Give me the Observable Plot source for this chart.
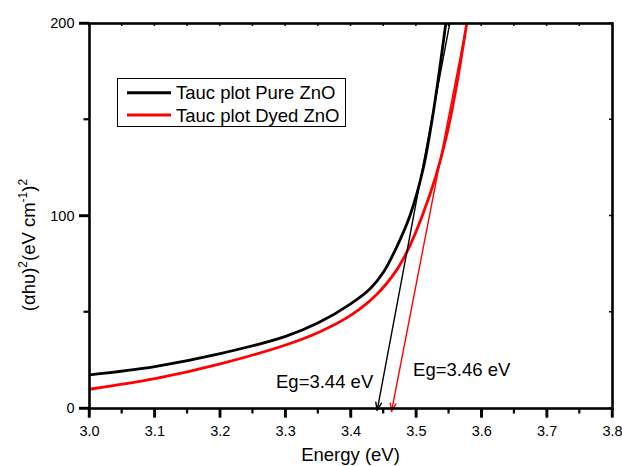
<!DOCTYPE html>
<html><head><meta charset="utf-8">
<script src="https://cdn.jsdelivr.net/npm/d3@7"></script>
<script src="https://cdn.jsdelivr.net/npm/@observablehq/plot@0.6"></script>
<style>body{margin:0;background:#fff}</style>
</head><body><div id="chart"></div>
<script>
// Series values
const energyPure = [3.0, 3.1, 3.2, 3.3, 3.35, 3.4, 3.43, 3.45, 3.47, 3.49, 3.51, 3.525, 3.535, 3.545];
const valuePure  = [17.5, 21.8, 28.5, 37.5, 44.5, 54.5, 62.5, 71, 84, 100, 124, 152, 175, 200];
const energyDyed = [3.0, 3.1, 3.2, 3.3, 3.35, 3.4, 3.44, 3.47, 3.49, 3.51, 3.53, 3.545, 3.56, 3.577];
const valueDyed  = [10, 15.5, 23.2, 33, 39.5, 48.5, 59.5, 72, 84.5, 101, 121, 140, 165, 200];

// Tangent (extrapolation) lines with arrows
const tangentX1 = [3.551, 3.577];
const tangentY1 = [200, 200];
const tangentX2 = [3.44, 3.462];
const tangentY2 = [-1, -1.5];
const tangentColor = ["black", "red"];

// Annotations
const noteText = ["Eg=3.44 eV", "Eg=3.46 eV"];
const noteX = [3.434, 3.495];
const noteY = [13.5, 20];
const noteAnchor = ["end", "start"];

// Legend
const seriesNames = ["Tauc plot Pure ZnO", "Tauc plot Dyed ZnO"];
const seriesColors = ["black", "red"];

// Ticks
const xMajor = [3.0, 3.1, 3.2, 3.3, 3.4, 3.5, 3.6, 3.7, 3.8];
const xMinor = [3.05, 3.15, 3.25, 3.35, 3.45, 3.55, 3.65, 3.75];
const yMajor = [0, 100, 200];
const yMinor = [50, 150];

const pure = energyPure.map((e, i) => ({e, v: valuePure[i]}));
const dyed = energyDyed.map((e, i) => ({e, v: valueDyed[i]}));
const tangents = tangentX1.map((x1, i) => ({x1, y1: tangentY1[i], x2: tangentX2[i], y2: tangentY2[i], c: tangentColor[i]}));
const notes = noteText.map((t, i) => ({t, x: noteX[i], y: noteY[i], a: noteAnchor[i]}));

const FONT = "'Liberation Sans', Arial, Helvetica, sans-serif";

const chart = Plot.plot({
  width: 622, height: 466,
  marginLeft: 89, marginRight: 10, marginTop: 23, marginBottom: 58,
  style: {fontFamily: FONT, background: "white", color: "black"},
  x: {domain: [3.0, 3.8]},
  y: {domain: [0, 200]},
  marks: [
    Plot.line(pure, {x: "e", y: "v", stroke: seriesColors[0], strokeWidth: 2.8, curve: "catmull-rom", clip: true}),
    Plot.line(dyed, {x: "e", y: "v", stroke: seriesColors[1], strokeWidth: 2.8, curve: "catmull-rom", clip: true}),
    Plot.arrow(tangents.filter(d => d.c === "black"), {x1: "x1", y1: "y1", x2: "x2", y2: "y2", stroke: "black", strokeWidth: 1.4, headLength: 9, headAngle: 40}),
    Plot.arrow(tangents.filter(d => d.c === "red"), {x1: "x1", y1: "y1", x2: "x2", y2: "y2", stroke: "red", strokeWidth: 1.4, headLength: 9, headAngle: 40}),
    Plot.text(notes.filter(d => d.a === "end"), {x: "x", y: "y", text: "t", textAnchor: "end", fontSize: 18.5, fill: "black"}),
    Plot.text(notes.filter(d => d.a === "start"), {x: "x", y: "y", text: "t", textAnchor: "start", fontSize: 18.5, fill: "black"}),
    Plot.axisX({ticks: xMajor, tickSize: 9.5, tickPadding: 8, tickFormat: d3.format(".1f"), fontSize: 14.5, strokeWidth: 2.4, label: null}),
    Plot.axisY({ticks: yMajor, tickSize: 10, tickPadding: 5, fontSize: 14.5, strokeWidth: 2.4, label: null}),
    Plot.frame({stroke: "black", strokeWidth: 2.6})
  ]
});

document.getElementById("chart").appendChild(chart);

const svg = d3.select(chart);

// Tick marks drawn with the plot's own scales
const sxObj = chart.scale("x"), syObj = chart.scale("y");
const X = (sxObj && sxObj.apply) ? (v => sxObj.apply(v)) : d3.scaleLinear([3.0, 3.8], [89, 612]);
const Y = (syObj && syObj.apply) ? (v => syObj.apply(v)) : d3.scaleLinear([0, 200], [408, 23]);
const xl = X(3.0), xr = X(3.8), yb = Y(0), yt0 = Y(200);
const tg = svg.append("g").attr("stroke", "black").attr("fill", "none");
function tick(xa, ya, xb, yb2, w) {
  tg.append("line").attr("x1", xa).attr("y1", ya).attr("x2", xb).attr("y2", yb2).attr("stroke-width", w);
}
xMajor.forEach(v => { tick(X(v), yb, X(v), yb + 9.5, 2.4); tick(X(v), yt0, X(v), yt0 + 3, 1.5); });
xMinor.forEach(v => { tick(X(v), yb, X(v), yb + 5.5, 2.2); tick(X(v), yt0, X(v), yt0 + 3, 1.5); });
yMajor.forEach(v => { tick(xl - 10, Y(v), xl, Y(v), 2.4); tick(xr - 3, Y(v), xr, Y(v), 1.5); });
yMinor.forEach(v => { tick(xl - 5.5, Y(v), xl, Y(v), 2.2); tick(xr - 3, Y(v), xr, Y(v), 1.5); });

// X axis title
svg.append("text")
  .attr("x", (xl + xr) / 2).attr("y", 461)
  .attr("text-anchor", "middle")
  .attr("font-family", FONT).attr("font-size", 18.5).attr("fill", "black")
  .text("Energy (eV)");

// Y axis title with superscripts
const ytl = svg.append("text")
  .attr("transform", "translate(35,245) rotate(-90)")
  .attr("text-anchor", "middle")
  .attr("font-family", FONT).attr("font-size", 18.5).attr("fill", "black");
ytl.append("tspan").text("(αhυ)");
ytl.append("tspan").attr("font-size", 12).attr("dy", -8).text("2");
ytl.append("tspan").attr("dy", 8).text("(eV cm");
ytl.append("tspan").attr("font-size", 12).attr("dy", -8).text("-1");
ytl.append("tspan").attr("dy", 8).text(")");
ytl.append("tspan").attr("font-size", 12).attr("dy", -8).text("2");

// Legend
const lg = svg.append("g");
lg.append("rect").attr("x", 117.5).attr("y", 78.5).attr("width", 228).attr("height", 48)
  .attr("fill", "white").attr("stroke", "black").attr("stroke-width", 1);
seriesNames.forEach((name, i) => {
  const cy = 92.7 + i * 22.3;
  lg.append("line").attr("x1", 127).attr("x2", 171).attr("y1", cy).attr("y2", cy)
    .attr("stroke", seriesColors[i]).attr("stroke-width", 3);
  lg.append("text").attr("x", 176).attr("y", cy + 6.6)
    .attr("text-anchor", "start")
    .attr("font-family", FONT).attr("font-size", 18.5).attr("fill", "black").text(name);
});
</script>
</body></html>
